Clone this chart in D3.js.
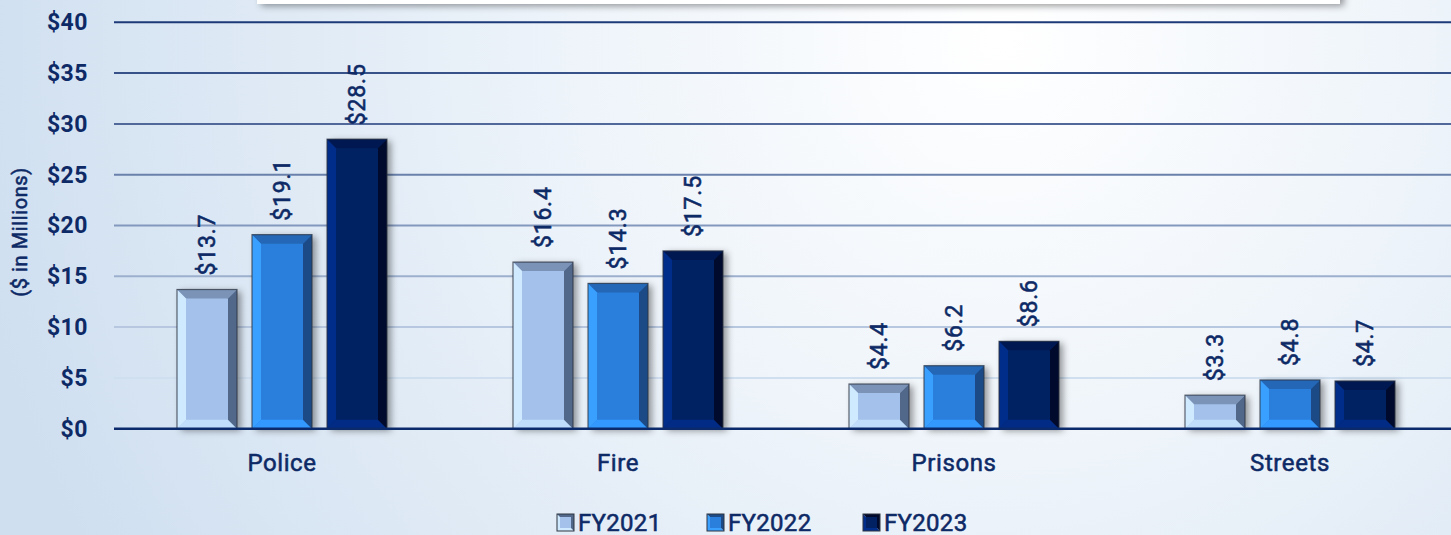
<!DOCTYPE html>
<html>
<head>
<meta charset="utf-8">
<script src="https://cdn.jsdelivr.net/npm/d3@7"></script>
<style>
  html, body { margin: 0; padding: 0; overflow: hidden; }
  svg { display: block; font-family: Roboto, "DejaVu Sans", sans-serif; }
  .med { stroke: #0e2a66; stroke-width: 0.55px; }
</style>
</head>
<body>
<div id="chart"></div>
<script>
// Chart data
const categories = ["Police", "Fire", "Prisons", "Streets"];
const seriesNames = ["FY2021", "FY2022", "FY2023"];
const fy2021 = [13.7, 16.4, 4.4, 3.3];
const fy2022 = [19.1, 14.3, 6.2, 4.8];
const fy2023 = [28.5, 17.5, 8.6, 4.7];
const yTicks = [0, 5, 10, 15, 20, 25, 30, 35, 40];
const yTitle = "($ in Millions)";

const seriesValues = [fy2021, fy2022, fy2023];

// bevel colours per series: face, top, left, bottom, right
const bevel = {
    FY2021: { face: "#a3c1ea", top: "#7a93b6", left: "#cfe9ff", bottom: "#c0defc", right: "#52688a" },
    FY2022: { face: "#2b7fdc", top: "#2467b6", left: "#3aa0ff", bottom: "#3399ff", right: "#1b4a86" },
    FY2023: { face: "#022162", top: "#001852", left: "#012d8a", bottom: "#012b85", right: "#000a2c" }
};

const width = 1451, height = 535;
const textColor = "#0e2a66";

const svg = d3.select("#chart").append("svg")
    .attr("width", width)
    .attr("height", height);

const defs = svg.append("defs");

// background gradient
const bg = defs.append("radialGradient")
    .attr("id", "bg")
    .attr("gradientUnits", "userSpaceOnUse")
    .attr("cx", 1000).attr("cy", 40).attr("r", 1050);
bg.append("stop").attr("offset", "0%").attr("stop-color", "#ffffff");
bg.append("stop").attr("offset", "40%").attr("stop-color", "#eef4fa");
bg.append("stop").attr("offset", "100%").attr("stop-color", "#cfdff0");

const shadow = defs.append("filter").attr("id", "shadow")
    .attr("x", "-20%").attr("y", "-20%").attr("width", "150%").attr("height", "150%");
shadow.append("feDropShadow")
    .attr("dx", 4).attr("dy", 2).attr("stdDeviation", 3.5)
    .attr("flood-color", "#000").attr("flood-opacity", 0.4);

const blur = defs.append("filter").attr("id", "blur")
    .attr("x", "-5%").attr("y", "-200%").attr("width", "110%").attr("height", "500%");
blur.append("feGaussianBlur").attr("stdDeviation", 2);

svg.append("rect").attr("width", width).attr("height", height).attr("fill", "url(#bg)");

// title box peeking in at the top
svg.append("rect")
    .attr("x", 257).attr("y", -30).attr("width", 1083).attr("height", 34)
    .attr("fill", "#ffffff")
    .attr("filter", "url(#shadow)");

// Scales
const x0 = d3.scaleBand()
    .domain(categories)
    .range([114, 1458])
    .padding(0);

const x1 = d3.scaleBand()
    .domain(seriesNames)
    .range([0, x0.bandwidth()])
    .paddingInner(0.2)
    .paddingOuter(0.84);

const y = d3.scaleLinear()
    .domain([0, 40])
    .range([428.7, 22.3]);

const gridColor = d3.scaleLinear()
    .domain([5, 40])
    .range(["#cfdff0", "#1d3a78"])
    .interpolate(d3.interpolateRgb);

// gridlines with soft shadow
const grid = svg.append("g");
yTicks.filter(t => t > 0).forEach(t => {
    grid.append("line")
        .attr("x1", 114).attr("x2", width)
        .attr("y1", y(t) + 5).attr("y2", y(t) + 5)
        .attr("stroke", "#9aa4ae").attr("stroke-width", 4)
        .attr("opacity", 0.35)
        .attr("filter", "url(#blur)");
    grid.append("line")
        .attr("x1", 114).attr("x2", width)
        .attr("y1", y(t)).attr("y2", y(t))
        .attr("stroke", gridColor(t)).attr("stroke-width", 2);
});

// y axis labels
const yAxis = svg.append("g")
    .attr("transform", "translate(88,0)")
    .call(d3.axisLeft(y).tickValues(yTicks).tickSize(0).tickPadding(0).tickFormat(d => "$" + d));
yAxis.select(".domain").remove();
yAxis.selectAll("text")
    .attr("fill", textColor)
    .style("font-size", "23px")
    .style("font-weight", "700")
    .style("letter-spacing", "0.5px")
    .style("font-family", "Roboto, sans-serif");

svg.append("text")
    .attr("class", "med")
    .attr("transform", "translate(27,232) rotate(-90)")
    .attr("text-anchor", "middle")
    .attr("fill", textColor)
    .style("font-size", "20px")
    .style("letter-spacing", "0.6px")
    .text(yTitle);

// bars
const barData = [];
categories.forEach((c, i) => {
    seriesNames.forEach((s, j) => {
        barData.push({ category: c, series: s, value: seriesValues[j][i] });
    });
});

function bevelFaces(x, yTop, w, h, b) {
    b = Math.min(b, h / 2, w / 2);
    const xl = x, xr = x + w, yt = yTop, yb = yTop + h;
    return {
        top: [[xl, yt], [xr, yt], [xr - b, yt + b], [xl + b, yt + b]],
        bottom: [[xl, yb], [xr, yb], [xr - b, yb - b], [xl + b, yb - b]],
        left: [[xl, yt], [xl + b, yt + b], [xl + b, yb - b], [xl, yb]],
        right: [[xr, yt], [xr - b, yt + b], [xr - b, yb - b], [xr, yb]]
    };
}

const bars = svg.append("g").selectAll("g")
    .data(barData)
    .join("g")
    .attr("transform", d => `translate(${x0(d.category) + x1(d.series)},0)`);

bars.append("rect")
    .attr("x", 0)
    .attr("y", d => y(d.value))
    .attr("width", x1.bandwidth())
    .attr("height", d => y(0) - y(d.value))
    .attr("fill", d => bevel[d.series].face)
    .attr("filter", "url(#shadow)");

["top", "bottom", "left", "right"].forEach(side => {
    bars.append("polygon")
        .attr("points", d => bevelFaces(0, y(d.value), x1.bandwidth(), y(0) - y(d.value), 9)[side].join(" "))
        .attr("fill", d => bevel[d.series][side]);
});

bars.append("rect")
    .attr("x", 0)
    .attr("y", d => y(d.value))
    .attr("width", x1.bandwidth())
    .attr("height", d => y(0) - y(d.value))
    .attr("fill", "none")
    .attr("stroke", "#2e3440")
    .attr("stroke-opacity", 0.75)
    .attr("stroke-width", 1.2);

// value labels
bars.append("text")
    .attr("class", "med")
    .attr("transform", d => `translate(${x1.bandwidth() / 2 + 8},${y(d.value) - 14}) rotate(-90)`)
    .attr("text-anchor", "start")
    .attr("fill", textColor)
    .style("font-size", "23px")
    .style("letter-spacing", "0.8px")
    .text(d => "$" + d.value.toFixed(1));

// x axis baseline
svg.append("line")
    .attr("x1", 114).attr("x2", width)
    .attr("y1", y(0)).attr("y2", y(0))
    .attr("stroke", "#0b2a6b").attr("stroke-width", 2.5);

// category labels
const xAxis = svg.append("g")
    .attr("transform", `translate(0,${y(0)})`)
    .call(d3.axisBottom(x0).tickSize(0).tickPadding(25));
xAxis.select(".domain").remove();
xAxis.selectAll("text")
    .attr("class", "med")
    .attr("fill", textColor)
    .style("font-size", "24px")
    .style("letter-spacing", "0.6px")
    .style("font-family", "Roboto, sans-serif");

// legend
const legendX = [557, 707, 863];
const legend = svg.append("g").selectAll("g")
    .data(seriesNames)
    .join("g")
    .attr("transform", (d, i) => `translate(${legendX[i]},514)`);

legend.append("polygon")
    .attr("points", "0,0 0,17 17,17")
    .attr("fill", d => bevel[d].left);
legend.append("polygon")
    .attr("points", "0,0 17,0 17,17")
    .attr("fill", d => bevel[d].right);
legend.append("rect")
    .attr("x", 3).attr("y", 3).attr("width", 11).attr("height", 11)
    .attr("fill", d => bevel[d].face);
legend.append("rect")
    .attr("width", 17).attr("height", 17)
    .attr("fill", "none")
    .attr("stroke", "#2e3440").attr("stroke-width", 1);

legend.append("text")
    .attr("class", "med")
    .attr("x", 21).attr("y", 17)
    .attr("fill", textColor)
    .style("font-size", "24px")
    .style("letter-spacing", "0.3px")
    .text(d => d);
</script>
</body>
</html>
